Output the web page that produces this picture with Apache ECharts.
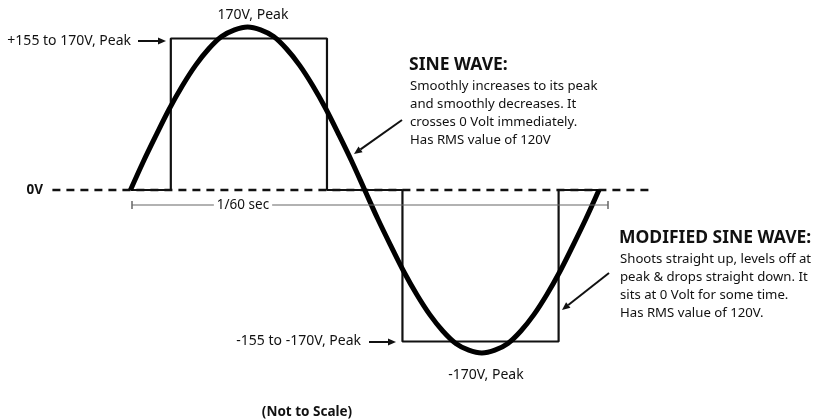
<!DOCTYPE html>
<html>
<head>
<meta charset="utf-8">
<script src="https://cdn.jsdelivr.net/npm/echarts@6/dist/echarts.min.js"></script>
<style>
  html, body { margin: 0; padding: 0; background: #fff; }
  #chart { width: 829px; height: 420px; }
</style>
</head>
<body>
<div id="chart"></div>
<script>
// phase angle of one 1/60 sec cycle, degrees
var phase = [0, 10, 20, 30, 40, 50, 60, 70, 80, 90, 100, 110, 120, 130, 140, 150, 160, 170, 180,
  190, 200, 210, 220, 230, 240, 250, 260, 270, 280, 290, 300, 310, 320, 330, 340, 350, 360];
// sine wave volts (peak 170V)
var sineVolts = [0, 30, 58, 85, 109, 130, 147, 160, 167, 170, 167, 160, 147, 130, 109, 85, 58, 30, 0,
  -30, -58, -85, -109, -130, -147, -160, -167, -170, -167, -160, -147, -130, -109, -85, -58, -30, 0];
// modified sine wave: step corners (phase, volts)
var stepPhase = [0, 31, 31, 151, 151, 209, 209, 329, 329, 360];
var stepVolts = [0, 0, 158, 158, 0, 0, -158, -158, 0, 0];
// zero reference line ends
var zeroPhase = [-60, 400];
var zeroVolts = [0, 0];

var font = '"Noto Sans", sans-serif';

function pairs(xs, ys) {
  return xs.map(function (x, i) { return [x, ys[i]]; });
}

function txt(x, y, s, opt) {
  opt = opt || {};
  return {
    type: 'text', x: x, y: y, z: 10,
    style: {
      text: s, fill: '#111', fontFamily: font,
      fontSize: opt.size || 14, fontWeight: opt.bold ? 'bold' : 'normal',
      textAlign: opt.align || 'left', textVerticalAlign: 'middle',
      backgroundColor: opt.bg, padding: opt.bg ? [0, 3] : 0
    }
  };
}

function arrow(x1, y1, x2, y2) {
  var a = Math.atan2(y2 - y1, x2 - x1), L = 8, W = 3.5;
  var bx = x2 - L * Math.cos(a), by = y2 - L * Math.sin(a);
  return [
    { type: 'line', z: 10, shape: { x1: x1, y1: y1, x2: bx, y2: by }, style: { stroke: '#111', lineWidth: 2 } },
    { type: 'polygon', z: 10, shape: { points: [[x2, y2],
      [bx - W * Math.sin(a), by + W * Math.cos(a)], [bx + W * Math.sin(a), by - W * Math.cos(a)]] },
      style: { fill: '#111' } }
  ];
}

var chart = echarts.init(document.getElementById('chart'));

var body = 13.2;
var graphics = [
  txt(131, 41, '+155 to 170V, Peak', { align: 'right' }),
  txt(253, 15, '170V, Peak', { align: 'center' }),
  txt(409, 65, 'SINE WAVE:', { bold: true, size: 17.5 }),
  txt(410, 86, 'Smoothly increases to its peak', { size: body }),
  txt(410, 104, 'and smoothly decreases. It', { size: body }),
  txt(410, 122, 'crosses 0 Volt immediately.', { size: body }),
  txt(410, 140, 'Has RMS value of 120V', { size: body }),
  txt(43, 190, '0V', { bold: true, align: 'right', size: 13.5 }),
  txt(619, 238, 'MODIFIED SINE WAVE:', { bold: true, size: 17.5 }),
  txt(620, 259, 'Shoots straight up, levels off at', { size: body }),
  txt(620, 277, 'peak & drops straight down. It', { size: body }),
  txt(620, 295, 'sits at 0 Volt for some time.', { size: body }),
  txt(620, 313, 'Has RMS value of 120V.', { size: body }),
  txt(361, 341, '-155 to -170V, Peak', { align: 'right' }),
  txt(486, 375, '-170V, Peak', { align: 'center' }),
  txt(307, 412, '(Not to Scale)', { bold: true, size: 13.5, align: 'center' }),
  // 1/60 sec bracket
  { type: 'line', z: 5, shape: { x1: 132, y1: 205, x2: 608, y2: 205 }, style: { stroke: '#666', lineWidth: 1.2 } },
  { type: 'line', z: 5, shape: { x1: 132, y1: 201, x2: 132, y2: 209 }, style: { stroke: '#666', lineWidth: 1.5 } },
  { type: 'line', z: 5, shape: { x1: 608, y1: 201, x2: 608, y2: 209 }, style: { stroke: '#666', lineWidth: 1.5 } },
  txt(243, 205, '1/60 sec', { align: 'center', bg: '#fff', size: 13.5 })
]
  .concat(arrow(138, 41, 166, 41))
  .concat(arrow(369, 342, 396, 342))
  .concat(arrow(402, 120, 354, 154))
  .concat(arrow(609, 273, 562, 310));

chart.setOption({
  animation: false,
  backgroundColor: '#fff',
  grid: { left: 52.4, width: 598.6, top: 17.4, height: 345.2 },
  xAxis: { type: 'value', min: -60, max: 400, show: false },
  yAxis: { type: 'value', min: -180, max: 180, show: false },
  series: [
    {
      name: 'zero', type: 'line', data: pairs(zeroPhase, zeroVolts), symbol: 'none', z: 1,
      lineStyle: { color: '#111', width: 2.4, type: [8, 6] }
    },
    {
      name: 'Modified sine wave', type: 'line', data: pairs(stepPhase, stepVolts), symbol: 'none', z: 2,
      lineStyle: { color: '#111', width: 2.2 }
    },
    {
      name: 'Sine wave', type: 'line', data: pairs(phase, sineVolts), symbol: 'none', smooth: 0.35, z: 3,
      lineStyle: { color: '#000', width: 5, cap: 'butt' }
    }
  ],
  graphic: graphics
});
</script>
</body>
</html>
